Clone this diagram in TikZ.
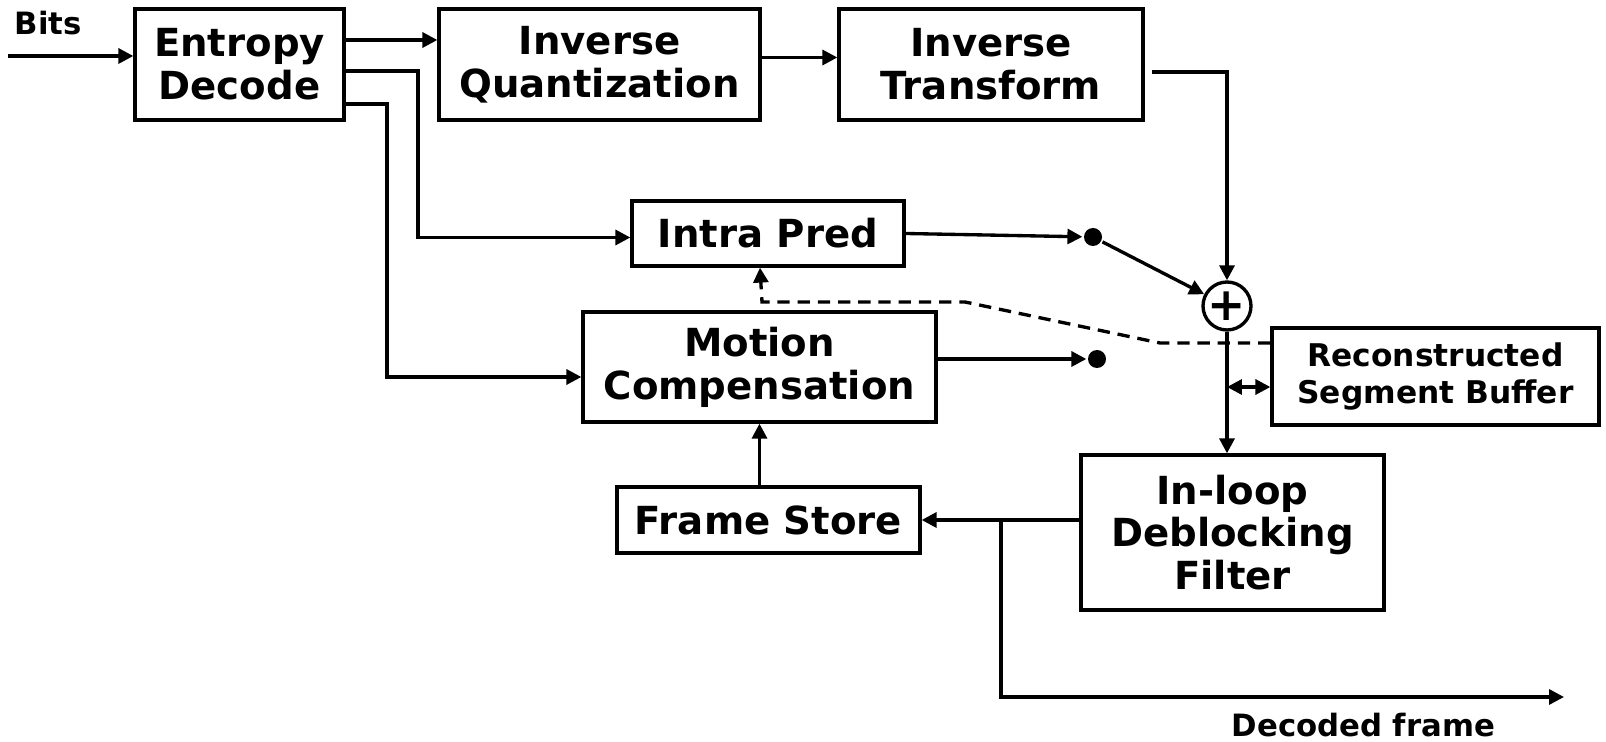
\documentclass[tikz,border=0pt]{standalone}
\usepackage{fontspec}
\setmainfont{DejaVu Sans}
\usetikzlibrary{arrows.meta,calc}

\begin{document}
\begin{tikzpicture}[x=0.02cm,y=-0.02cm,line width=1.9pt,>={Triangle[length=8.5pt,width=8.5pt]},
    blk/.style={draw,rectangle,align=center,inner sep=0pt,font=\fontsize{22}{24.4}\selectfont\bfseries},
    smallblk/.style={blk,font=\fontsize{17.8}{21}\selectfont\bfseries},
    lbl/.style={inner sep=0pt,font=\fontsize{17.5}{21}\selectfont\bfseries},
    dot/.style={circle,fill,inner sep=0pt,minimum size=0.36cm},
    feedback/.style={dash pattern=on 7pt off 4.5pt}]
    \useasboundingbox (0,0) rectangle (1606,742);

    % Blocks
    \node[blk,minimum width=4.18cm,minimum height=2.22cm] (ent) at (239.5,64.5) {Entropy\\Decode};
    \node[blk,minimum width=6.42cm,minimum height=2.22cm] (iq) at (599.5,64.5) {Inverse\\Quantization};
    \node[blk,minimum width=6.08cm,minimum height=2.22cm] (it) at (991,64.5) {Inverse\\Transform};
    \node[blk,minimum width=5.44cm,minimum height=1.30cm] (intra) at (768,233.5) {Intra Pred};
    \node[blk,minimum width=7.06cm,minimum height=2.20cm] (mc) at (759.5,367) {Motion\\Compensation};
    \node[blk,minimum width=6.06cm,minimum height=1.32cm] (fs) at (768.5,520) {Frame Store};
    \node[blk,minimum width=6.06cm,minimum height=3.10cm] (dbf) at (1232.5,532.5) {In-loop\\Deblocking\\Filter};
    \node[smallblk,minimum width=6.54cm,minimum height=1.94cm] (rsb) at (1435.5,376.5) {Reconstructed\\Segment Buffer};
    \node[draw,circle,inner sep=0pt,minimum size=0.96cm,font=\fontsize{26}{26}\selectfont\bfseries] (sum) at (1227,306) {+};

    % Switch contacts
    \foreach \n/\pt in {d1/{(1093,237)},d2/{(1097,359)}}
        \node[dot] (\n) at \pt {};

    % Texts
    \node[lbl,anchor=base west] (bits) at (13,35) {Bits};
    \node[lbl,anchor=base west] (dec) at (1230,737) {Decoded frame};

    % Define coordinates
    \coordinate (bitsin) at (8,56);
    \coordinate (k1) at (418,71);
    \coordinate (k2) at (387,104);
    \coordinate (br) at (1001,520);
    \coordinate (dout) at (1564,697);
    \coordinate (c1) at (1160,343);
    \coordinate (c2) at (965,302);
    \coordinate (c3) at (762,302);
    \coordinate (rs) at (0,387);

    % Forward path
    \draw[->] (bitsin) -- (bitsin-|ent.west);
    \draw[->] (ent.east|-0,40) -- (iq.west|-0,40);
    \draw[->] (ent.east|-k1) -- (k1) |- ($(intra.west)+(0,4)$);
    \draw[->] (ent.east|-k2) -- (k2) |- ($(mc.west)+(0,10)$);
    \draw[->] ($(iq.east)+(0,-7)$) -- ($(it.west)+(0,-7)$);
    \draw[->] ($(it.east)+(7,7.5)$) -| (sum.north);
    \draw[->] (intra.east) -- (d1);
    \draw[->] ($(mc.east)+(0,-8)$) -- (d2);
    \draw[->] (d1) -- (sum);
    \draw[->] (sum.south) -- (sum.south|-dbf.north);

    % Loop back
    \draw[->] (dbf.west|-fs.east) -- (fs.east);
    \draw[->] (br) |- (dout);
    \draw[->] (mc.south|-fs.north) -- (mc.south);
    \draw[<->] (sum.south|-rs) -- (rsb.west|-rs);
    \draw[->,feedback] (rsb.west|-c1) -- (c1) -- (c2) -- (c3) -- ($(intra.south)+(-8,0)$);
\end{tikzpicture}
\end{document}
